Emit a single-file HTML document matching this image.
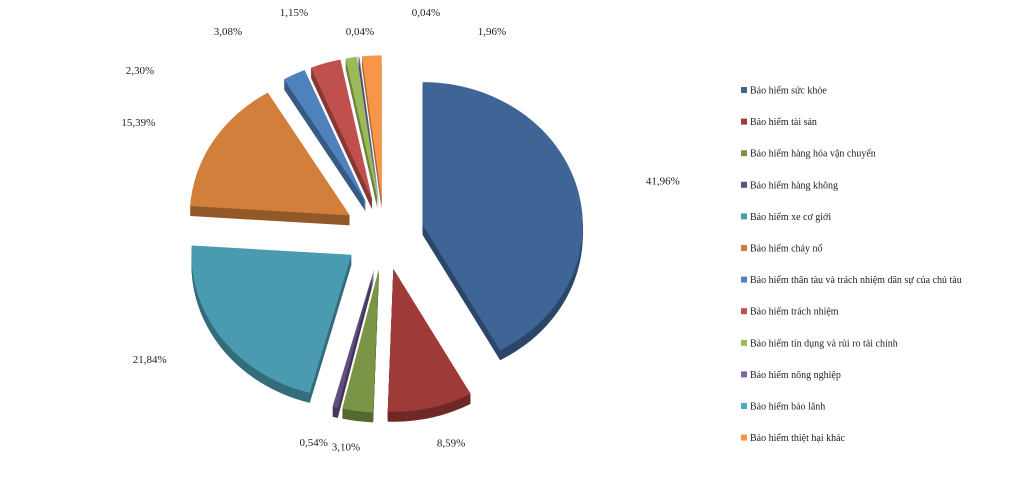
<!DOCTYPE html>
<html><head><meta charset="utf-8"><style>
html,body{margin:0;padding:0;background:#fff;width:1023px;height:487px;overflow:hidden}
svg text{font-family:"Liberation Serif",serif;}
</style></head><body>
<svg id="chart" width="1023" height="487" viewBox="0 0 1023 487" xmlns="http://www.w3.org/2000/svg">
<g id="slices"></g>
<g id="labels"></g>
<g id="legend"></g>
</svg>
<script>
const categories = ["Bảo hiểm sức khỏe","Bảo hiểm tài sản","Bảo hiểm hàng hóa vận chuyển","Bảo hiểm hàng không","Bảo hiểm xe cơ giới","Bảo hiểm cháy nổ","Bảo hiểm thân tàu và trách nhiệm dân sự của chủ tàu","Bảo hiểm trách nhiệm","Bảo hiểm tín dụng và rủi ro tài chính","Bảo hiểm nông nghiệp","Bảo hiểm bảo lãnh","Bảo hiểm thiệt hại khác"];
const values = [41.96,8.59,3.10,0.54,21.84,15.39,2.30,3.08,1.15,0.04,0.04,1.96];
const valueLabels = ["41,96%","8,59%","3,10%","0,54%","21,84%","15,39%","2,30%","3,08%","1,15%","0,04%","0,04%","1,96%"];
const colors = ["#3f6596","#9e3b38","#7a9545","#634e80","#4a9ab0","#d17f3a","#4f81bd","#c0504d","#9bbb59","#8064a2","#4bacc6","#f79646"];

const NS="http://www.w3.org/2000/svg";
const cx=384, cy=234, rx=160, ry=143, explode=40, depth=10;
const total=values.reduce((a,b)=>a+b,0);
function shade(hex,f){const n=parseInt(hex.slice(1),16);let r=(n>>16)&255,g=(n>>8)&255,b=n&255;return `rgb(${Math.round(r*f)},${Math.round(g*f)},${Math.round(b*f)})`;}
function pt(x,y,a,k){return [x+rx*k*Math.sin(a), y-ry*k*Math.cos(a)];}
function arcPath(x,y,a0,a1){const p0=pt(x,y,a0,1),p1=pt(x,y,a1,1);const large=(a1-a0)>Math.PI?1:0;
 return `M${x},${y}L${p0[0]},${p0[1]}A${rx},${ry} 0 ${large} 1 ${p1[0]},${p1[1]}Z`;}
let cum=0; const sl=[];
values.forEach((v,i)=>{const a0=cum/total*2*Math.PI; cum+=v; const a1=cum/total*2*Math.PI; const mid=(a0+a1)/2;
 const ox=cx+explode*Math.sin(mid), oy=cy-explode*Math.cos(mid)*ry/rx; sl.push({i,a0,a1,mid,ox,oy});});
const g=document.getElementById('slices');
[...sl].sort((a,b)=>a.oy-b.oy).forEach(s=>{
 const grp=document.createElementNS(NS,'g');
 
 
 for(let d=depth;d>=1;d--){const p=document.createElementNS(NS,'path');p.setAttribute('d',arcPath(s.ox,s.oy+d,s.a0,s.a1));p.setAttribute('fill',shade(colors[s.i],0.7));grp.appendChild(p);}
 const p=document.createElementNS(NS,'path');p.setAttribute('d',arcPath(s.ox,s.oy,s.a0,s.a1));p.setAttribute('fill',colors[s.i]);grp.appendChild(p);
 g.appendChild(grp);
});
const lg=document.getElementById('labels');
let topIdx=0;
sl.forEach(s=>{
 let x=s.ox+rx*1.55*Math.sin(s.mid);
 let y=s.oy-ry*1.25*Math.cos(s.mid);
 if(s.mid>Math.PI*2*325/360){ // crowded top labels: spread out
   if(topIdx===0){ x=140; y=70; }
   else { x=228+(topIdx-1)*66; y=(topIdx%2===1)?31:12; }
   topIdx++;
 }
 if(y<12) y=12;
 const t=document.createElementNS(NS,'text');
 
 
 t.setAttribute('x',x);t.setAttribute('y',y+4);t.setAttribute('text-anchor','middle');t.setAttribute('font-size','11');t.setAttribute('fill','#222');t.textContent=valueLabels[s.i];lg.appendChild(t);});
const leg=document.getElementById('legend');
categories.forEach((c,i)=>{const y=90+i*31.6;const r=document.createElementNS(NS,'rect');
 
 
 r.setAttribute('x',741);r.setAttribute('y',y-3);r.setAttribute('width',6);r.setAttribute('height',6);r.setAttribute('fill',colors[i]);leg.appendChild(r);
 const t=document.createElementNS(NS,'text');
 
 
 t.setAttribute('x',750);t.setAttribute('y',y+3.5);t.setAttribute('font-size','10');t.setAttribute('fill','#222');t.textContent=c;leg.appendChild(t);});
</script>
</body></html>
